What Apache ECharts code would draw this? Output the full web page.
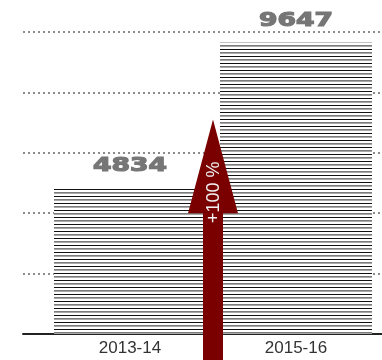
<!DOCTYPE html>
<html>
<head>
<meta charset="utf-8">
<style>
html, body { margin: 0; padding: 0; background: #fff; }
#chart { width: 382px; height: 360px; }
</style>
<script src="https://cdn.jsdelivr.net/npm/echarts@6/dist/echarts.min.js"></script>
</head>
<body>
<div id="chart"></div>
<script>
var categories = ['2013-14', '2015-16']
var values = [4834, 9647]
var yMax = 10000
var yStep = 2000
// arrow between the bars: tip and head base, in axis units
var arrowTip = 7100
var arrowHeadBase = 4000
var arrowText = '+100 %'

// horizontal hatching used to fill the bars
function stripes () {
  var c = document.createElement('canvas')
  c.width = 4
  c.height = 7
  var ctx = c.getContext('2d')
  ctx.fillStyle = '#fff'
  ctx.fillRect(0, 0, 4, 7)
  ctx.fillStyle = '#111'
  ctx.fillRect(0, 0, 4, 1)
  ctx.fillStyle = '#7c7c7c'
  ctx.fillRect(0, 3, 4, 1)
  ctx.fillStyle = '#a8a8a8'
  ctx.fillRect(0, 4, 4, 1)
  return c
}

var chart = echarts.init(document.getElementById('chart'))

var option = {
  backgroundColor: '#fff',
  animation: false,
  grid: [
    { left: 23, right: 0, top: 32, bottom: 26 },
    { left: 47, right: 3, top: 32, bottom: 26 }
  ],
  xAxis: [
    {
      gridIndex: 0,
      type: 'category',
      data: categories,
      axisLine: { show: true, lineStyle: { color: '#222', width: 2 } },
      axisTick: { show: false },
      axisLabel: { show: false }
    },
    {
      gridIndex: 1,
      type: 'category',
      data: categories,
      axisLine: { show: false },
      axisTick: { show: false },
      axisLabel: {
        color: '#333',
        fontSize: 17,
        fontFamily: 'Liberation Sans',
        margin: 6
      }
    }
  ],
  yAxis: [
    {
      gridIndex: 0,
      type: 'value',
      min: 0,
      max: yMax,
      interval: yStep,
      axisLine: { show: false },
      axisTick: { show: false },
      axisLabel: { show: false },
      splitLine: { lineStyle: { color: '#8c8c8c', width: 2, type: [2, 3] } }
    },
    {
      gridIndex: 1,
      type: 'value',
      min: 0,
      max: yMax,
      interval: yStep,
      show: false,
      splitLine: { show: false }
    }
  ],
  series: [
    {
      type: 'bar',
      xAxisIndex: 1,
      yAxisIndex: 1,
      barWidth: 152,
      data: values,
      itemStyle: { color: { image: stripes(), repeat: 'repeat' } },
      z: 2
    },
    {
      // value labels above the bars, drawn wide and heavy
      type: 'custom',
      xAxisIndex: 1,
      yAxisIndex: 1,
      data: values.map((v, i) => [i, v]),
      encode: { x: 0, y: 1 },
      clip: false,
      z: 3,
      renderItem: function (params, api) {
        var p = api.coord([api.value(0), api.value(1)])
        return {
          type: 'text',
          x: p[0],
          y: p[1] - 22,
          scaleX: 1.4,
          style: {
            text: String(api.value(1)),
            font: 'bold 19px "DejaVu Sans"',
            fill: '#767676',
            stroke: '#767676',
            lineWidth: 1.2,
            align: 'center',
            verticalAlign: 'middle'
          }
        }
      }
    },
    {
      type: 'custom',
      xAxisIndex: 1,
      yAxisIndex: 1,
      data: [[0, arrowTip, arrowHeadBase]],
      encode: { x: 0, y: [1, 2] },
      clip: false,
      z: 4,
      renderItem: function (params, api) {
        var a = api.coord([0, api.value(1)])
        var b = api.coord([1, api.value(1)])
        var x = (a[0] + b[0]) / 2
        var tip = a[1]
        var base = api.coord([0, api.value(2)])[1]
        var bottom = api.getHeight()
        return {
          type: 'group',
          children: [
            {
              type: 'polygon',
              shape: {
                points: [
                  [x, tip], [x + 25, base], [x + 10, base], [x + 10, bottom],
                  [x - 10, bottom], [x - 10, base], [x - 25, base]
                ]
              },
              style: { fill: '#7a0000' }
            },
            {
              type: 'text',
              x: x + 1,
              y: base - 21,
              rotation: Math.PI / 2,
              style: {
                text: arrowText,
                font: '300 18px "Liberation Sans"',
                fill: '#f0f0f0',
                align: 'center',
                verticalAlign: 'middle'
              }
            }
          ]
        }
      }
    }
  ]
}

chart.setOption(option)
</script>
</body>
</html>
